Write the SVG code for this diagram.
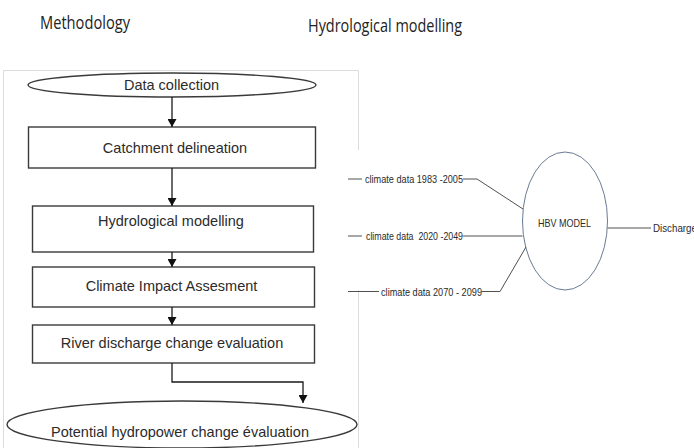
<svg xmlns="http://www.w3.org/2000/svg" width="694" height="448" viewBox="0 0 694 448">
  <style>
    .title { font-family: "Open Sans", "Liberation Sans", sans-serif; font-size: 19px; fill: #222; }
    .step { fill: #fff; stroke: #3a3a3a; stroke-width: 1.4; }
    .label { font-family: "Liberation Sans", Arial, sans-serif; font-size: 14.5px; fill: #2b2b2b; text-anchor: middle; }
    .flow { fill: none; stroke: #1a1a1a; stroke-width: 1.3; }
    .frame { fill: none; stroke: #dcdcdc; stroke-width: 1; }
    .wire { fill: none; stroke: #505050; stroke-width: 1; }
    .small { font-family: "Liberation Sans", Arial, sans-serif; font-size: 11px; fill: #2b2b2b; }
    .model { fill: #fff; stroke: #6a7a94; stroke-width: 1; }
  </style>
  <defs>
    <marker id="arrow" markerUnits="userSpaceOnUse" markerWidth="9" markerHeight="9" refX="8" refY="4.5" orient="auto">
      <path d="M0,0 L8,4.5 L0,9 Z" fill="#111"/>
    </marker>
  </defs>

  <rect width="694" height="448" fill="#fff"/>

  <!-- headings -->
  <text class="title" x="40" y="29" textLength="90" lengthAdjust="spacingAndGlyphs">Methodology</text>
  <text class="title" x="308" y="32" textLength="154" lengthAdjust="spacingAndGlyphs">Hydrological modelling</text>

  <!-- frame of the methodology panel -->
  <path class="frame" d="M3.5,448 V70.5 H358.5 V150 M358.5,290 V448"/>

  <!-- methodology flowchart -->
  <g id="data-collection">
    <ellipse class="step" cx="172" cy="85" rx="144" ry="12"/>
    <text class="label" x="171.5" y="90">Data collection</text>
  </g>
  <g id="catchment-delineation">
    <rect class="step" x="28.5" y="127" width="287" height="41"/>
    <text class="label" x="175" y="152.5">Catchment delineation</text>
  </g>
  <g id="hydrological-modelling">
    <rect class="step" x="32.5" y="206" width="281" height="46"/>
    <text class="label" x="171" y="225.5">Hydrological modelling</text>
  </g>
  <g id="climate-impact">
    <rect class="step" x="32.5" y="267" width="282" height="40"/>
    <text class="label" x="171.5" y="290.5">Climate Impact Assesment</text>
  </g>
  <g id="river-discharge">
    <rect class="step" x="32.5" y="325" width="282" height="38"/>
    <text class="label" x="172" y="347.5">River discharge change evaluation</text>
  </g>
  <g id="hydropower-change">
    <ellipse class="step" cx="182" cy="424.5" rx="175" ry="23.5"/>
    <text class="label" x="180" y="436.5">Potential hydropower change évaluation</text>
  </g>

  <g id="flow-connectors">
    <line class="flow" x1="172" y1="97" x2="172" y2="127" marker-end="url(#arrow)"/>
    <line class="flow" x1="172" y1="168" x2="172" y2="206" marker-end="url(#arrow)"/>
    <line class="flow" x1="172" y1="252" x2="172" y2="267" marker-end="url(#arrow)"/>
    <line class="flow" x1="172" y1="307" x2="172" y2="325" marker-end="url(#arrow)"/>
    <polyline class="flow" points="172,363 172,382 303,382 303,403" marker-end="url(#arrow)"/>
  </g>

  <!-- HBV model scheme -->
  <g id="hbv-model">
    <ellipse class="model" cx="565" cy="221" rx="42.5" ry="69"/>
    <text class="small" x="538" y="226.5" textLength="53" lengthAdjust="spacingAndGlyphs">HBV MODEL</text>
  </g>
  <g id="climate-1983-2005">
    <text class="small" x="365" y="183" textLength="98" lengthAdjust="spacingAndGlyphs">climate data 1983 -2005</text>
  </g>
  <g id="climate-2020-2049">
    <text class="small" x="366" y="240" textLength="97" lengthAdjust="spacingAndGlyphs" xml:space="preserve">climate data  2020 -2049</text>
  </g>
  <g id="climate-2070-2099">
    <text class="small" x="381" y="295.5" textLength="101" lengthAdjust="spacingAndGlyphs">climate data 2070 - 2099</text>
  </g>
  <g id="discharge">
    <text class="small" x="653" y="231.5" textLength="44" lengthAdjust="spacingAndGlyphs">Discharge</text>
  </g>

  <g id="model-connectors">
    <line class="wire" x1="348" y1="179" x2="362" y2="179"/>
    <polyline class="wire" points="463,179 477,179 523,209"/>
    <line class="wire" x1="348" y1="236" x2="362" y2="236"/>
    <line class="wire" x1="463" y1="236" x2="522.5" y2="236"/>
    <line class="wire" x1="348" y1="291.5" x2="379" y2="291.5"/>
    <polyline class="wire" points="482,291.5 500,291.5 526,247"/>
    <line class="wire" x1="607.5" y1="228" x2="651" y2="228" stroke-width="1.3"/>
  </g>
</svg>
